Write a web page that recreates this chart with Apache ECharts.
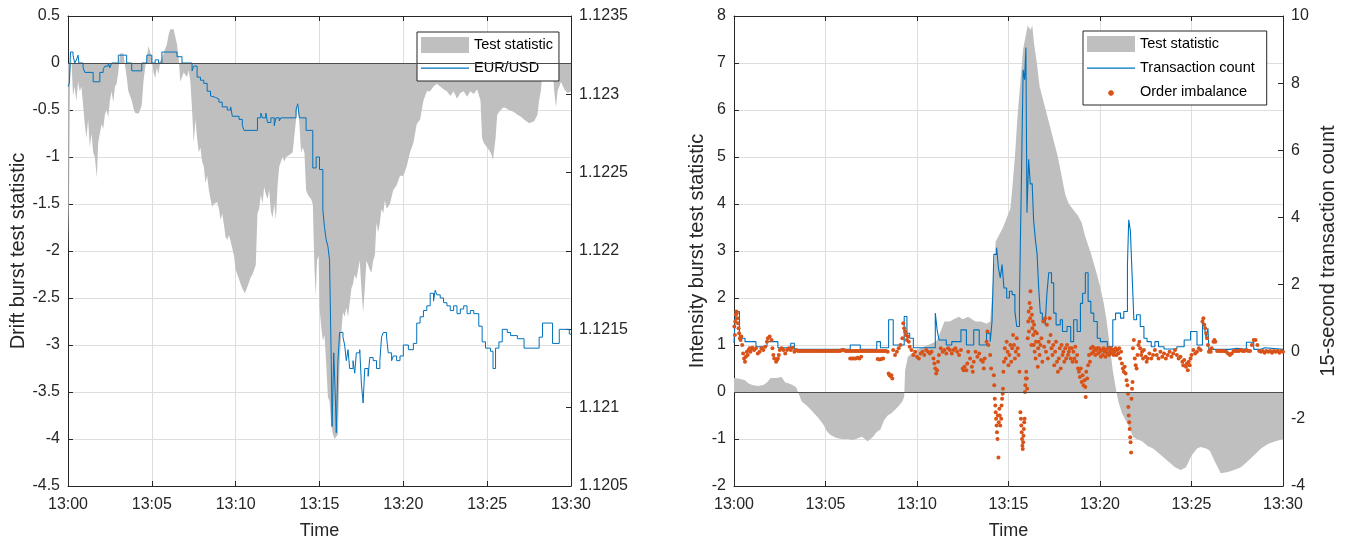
<!DOCTYPE html>
<html>
<head>
<meta charset="utf-8">
<script src="https://cdn.jsdelivr.net/npm/echarts@6/dist/echarts.min.js"></script>
<style>
html,body{margin:0;padding:0;background:#fff}
#chart{width:1346px;height:539px}
</style>
</head>
<body>
<div id="chart"></div>
<script>
// Minutes after 13:00 on every x value.
const timeLabels = ['13:00', '13:05', '13:10', '13:15', '13:20', '13:25', '13:30'];

// Drift burst test statistic, [minute, value]
const driftStat = [
  [0,0],[0.02,-2.0],[0.06,-1.5],[0.12,-0.2],[0.2,0.05],[0.3,-0.35],[0.4,-0.25],[0.5,-0.41],[0.6,-0.2],[0.7,-0.3],
  [0.8,-0.25],[0.9,-0.45],[1.0,-0.65],[1.1,-0.8],[1.2,-0.6],[1.3,-0.9],[1.4,-0.75],[1.5,-0.95],[1.6,-1.0],[1.72,-1.22],
  [1.8,-0.85],[1.9,-0.75],[2.0,-0.65],[2.1,-0.7],[2.2,-0.55],[2.3,-0.5],[2.4,-0.58],[2.5,-0.4],[2.6,-0.3],[2.7,-0.42],
  [2.8,-0.25],[2.9,-0.22],[3.0,-0.1],[3.1,0.1],[3.2,0.12],[3.3,0.1],[3.4,0.08],[3.5,-0.15],[3.6,-0.3],[3.7,-0.35],
  [3.8,-0.4],[3.9,-0.48],[4.0,-0.53],[4.1,-0.55],[4.2,-0.54],[4.3,-0.5],[4.4,-0.45],[4.5,-0.2],[4.6,-0.05],[4.7,0.05],
  [4.8,0.18],[4.9,0.2],[5.0,0.05],[5.1,-0.1],[5.2,-0.16],[5.3,-0.05],[5.4,-0.12],[5.5,0.02],[5.6,0.05],[5.7,0.1],
  [5.8,0.08],[5.9,0.2],[6.0,0.3],[6.1,0.36],[6.2,0.37],[6.3,0.36],[6.4,0.35],[6.5,0.2],[6.6,0.05],[6.7,-0.2],
  [6.8,-0.15],[6.9,-0.1],[7.0,-0.12],[7.1,-0.15],[7.2,-0.08],[7.3,-0.2],[7.4,-0.5],[7.5,-0.85],[7.6,-0.6],[7.7,-0.8],
  [7.8,-0.95],[7.9,-0.9],[8.0,-1.05],[8.1,-1.1],[8.2,-1.28],[8.3,-1.2],[8.4,-1.35],[8.5,-1.45],[8.6,-1.53],[8.7,-1.5],
  [8.8,-1.52],[8.9,-1.48],[9.0,-1.55],[9.1,-1.67],[9.2,-1.6],[9.3,-1.72],[9.4,-1.85],[9.5,-1.88],[9.6,-1.83],[9.7,-1.9],
  [9.8,-1.92],[9.9,-2.05],[10.0,-2.2],[10.1,-2.25],[10.2,-2.3],[10.3,-2.35],[10.4,-2.4],[10.55,-2.45],[10.7,-2.38],[10.8,-2.33],
  [10.9,-2.28],[11.0,-2.25],[11.1,-2.2],[11.2,-2.15],[11.3,-1.6],[11.4,-1.55],[11.5,-1.4],[11.6,-1.5],[11.7,-1.32],[11.8,-1.4],
  [11.9,-1.45],[12.0,-1.35],[12.1,-1.58],[12.2,-1.65],[12.3,-1.5],[12.4,-1.67],[12.5,-1.3],[12.6,-1.1],[12.7,-1.05],[12.8,-1.0],
  [12.9,-1.05],[13.0,-1.0],[13.2,-0.98],[13.4,-0.95],[13.5,-0.93],[13.6,-0.6],[13.7,-0.42],[13.75,-0.4],[13.8,-0.65],[13.9,-0.95],
  [14.0,-0.9],[14.1,-0.95],[14.2,-1.35],[14.3,-1.4],[14.4,-1.42],[14.5,-1.45],[14.6,-1.5],[14.7,-2.2],[14.78,-2.48],[14.85,-2.1],
  [14.95,-2.05],[15.0,-2.6],[15.1,-2.8],[15.2,-2.95],[15.3,-2.9],[15.4,-3.2],[15.5,-3.55],[15.6,-3.6],[15.7,-3.85],[15.8,-3.95],
  [15.9,-4.0],[16.0,-4.02],[16.1,-3.95],[16.2,-3.2],[16.3,-2.87],[16.4,-2.65],[16.5,-2.7],[16.6,-2.6],[16.7,-2.7],[16.8,-2.55],
  [16.9,-2.4],[17.0,-2.35],[17.1,-2.25],[17.2,-2.3],[17.3,-2.2],[17.4,-2.1],[17.5,-2.4],[17.6,-2.66],[17.7,-2.4],[17.8,-2.1],
  [17.9,-2.1],[18.0,-2.2],[18.1,-2.23],[18.2,-2.1],[18.3,-2.05],[18.4,-1.7],[18.5,-1.8],[18.6,-1.7],[18.7,-1.55],[18.8,-1.6],
  [18.9,-1.46],[19.0,-1.55],[19.2,-1.5],[19.4,-1.35],[19.6,-1.3],[19.8,-1.2],[20.0,-1.2],[20.2,-1.1],[20.4,-0.95],[20.6,-0.85],
  [20.8,-0.65],[21.0,-0.6],[21.2,-0.4],[21.4,-0.3],[21.6,-0.3],[21.8,-0.25],[22.0,-0.22],[22.2,-0.25],[22.4,-0.28],[22.6,-0.3],
  [22.8,-0.35],[23.0,-0.3],[23.2,-0.38],[23.4,-0.32],[23.6,-0.3],[23.8,-0.36],[24.0,-0.3],[24.2,-0.33],[24.4,-0.28],[24.6,-0.4],
  [24.7,-0.8],[24.8,-0.85],[25.0,-0.9],[25.2,-0.95],[25.35,-1.03],[25.5,-0.8],[25.6,-0.55],[25.8,-0.5],[26.0,-0.47],[26.3,-0.5],
  [26.6,-0.52],[26.8,-0.55],[27.0,-0.57],[27.2,-0.6],[27.5,-0.64],[27.8,-0.62],[28.0,-0.55],[28.1,-0.4],[28.2,-0.3],[28.3,-0.1],
  [28.5,-0.05],[28.7,-0.02],[28.9,-0.05],[29.0,-0.3],[29.1,-0.47],[29.2,-0.3],[29.4,-0.2],[29.6,-0.28],[29.8,-0.32],[30.0,-0.3]
];

// EUR/USD quote, [minute, price], held until the next change
const eurusd = [
  [0,1.12305],[0.08,1.12307],[0.15,1.12327],[0.3,1.12325],[0.4,1.1232],[0.5,1.12322],[0.6,1.12325],[0.65,1.1232],[0.9,1.12317],[1.0,1.12314],
  [1.5,1.12308],[1.9,1.12314],[2.1,1.12316],[2.2,1.12318],[2.4,1.1232],[2.5,1.12317],[2.6,1.1232],[3.0,1.12325],[3.2,1.12324],[3.3,1.12325],
  [3.5,1.1232],[3.8,1.12315],[4.4,1.1232],[4.7,1.12325],[5.0,1.1232],[5.2,1.12322],[5.4,1.1232],[5.6,1.12327],[6.5,1.12324],[6.8,1.1232],
  [7.4,1.12315],[7.5,1.12318],[7.7,1.12311],[7.9,1.12309],[8.1,1.12307],[8.3,1.12302],[8.5,1.12299],[8.6,1.12298],[8.8,1.12297],[9.0,1.12295],
  [9.2,1.12292],[9.5,1.1229],[9.7,1.12292],[9.8,1.12286],[10.2,1.12284],[10.4,1.1228],[10.5,1.12277],[11.3,1.12285],[11.5,1.12288],[11.6,1.12285],
  [11.8,1.12288],[11.9,1.12282],[12.1,1.12285],[12.3,1.1228],[12.4,1.12285],[12.6,1.12283],[12.7,1.12285],[13.6,1.1229],[13.7,1.12294],[13.8,1.12285],
  [14.2,1.12277],[14.6,1.12253],[14.8,1.1226],[15.0,1.12252],[15.2,1.12226],[15.3,1.12215],[15.4,1.12207],[15.5,1.12203],[15.6,1.12194],[15.7,1.1213],
  [15.75,1.12088],[15.85,1.12135],[15.95,1.12105],[16.0,1.12084],[16.1,1.1213],[16.2,1.12148],[16.4,1.12145],[16.5,1.1214],[16.6,1.1213],[16.7,1.12137],
  [16.8,1.12125],[17.0,1.1213],[17.1,1.12122],[17.2,1.12135],[17.4,1.12137],[17.5,1.12115],[17.6,1.12103],[17.7,1.12125],[17.9,1.1212],[18.0,1.12132],
  [18.2,1.1213],[18.4,1.12125],[18.6,1.1213],[18.7,1.12145],[18.8,1.12148],[19.0,1.12145],[19.1,1.12135],[19.3,1.1213],[19.4,1.12133],[19.6,1.1213],
  [19.8,1.12133],[20.0,1.1214],[20.3,1.12137],[20.6,1.12141],[20.8,1.12154],[21.0,1.12158],[21.2,1.12162],[21.4,1.12165],[21.6,1.12173],[21.8,1.12168],
  [21.9,1.12175],[22.0,1.12172],[22.2,1.1217],[22.4,1.12167],[22.6,1.12165],[22.8,1.12162],[23.0,1.12165],[23.2,1.1216],[23.4,1.12163],[23.6,1.12165],
  [23.8,1.1216],[24.0,1.12162],[24.2,1.1216],[24.5,1.12152],[24.7,1.12142],[24.9,1.12138],[25.2,1.12136],[25.35,1.12125],[25.5,1.12138],[25.7,1.12142],
  [25.9,1.1215],[26.2,1.12148],[26.4,1.12146],[26.8,1.12144],[27.2,1.12138],[28.1,1.12145],[28.3,1.12154],[28.9,1.12141],[29.3,1.1215],[29.9,1.12147],
  [30.0,1.12147]
];

// Intensity burst test statistic, [minute, value]
const intensityStat = [
  [0,0.3],[0.3,0.28],[0.6,0.25],[0.8,0.18],[1.0,0.15],[1.3,0.13],[1.6,0.15],[1.8,0.2],[2.0,0.3],[2.3,0.3],
  [2.6,0.32],[2.8,0.2],[3.0,0.18],[3.2,0.15],[3.4,0.1],[3.5,0.0],[3.7,-0.2],[4.0,-0.3],[4.3,-0.42],[4.6,-0.55],
  [4.9,-0.7],[5.1,-0.85],[5.3,-0.92],[5.6,-0.98],[5.9,-1.0],[6.2,-1.0],[6.5,-1.02],[6.8,-0.98],[7.0,-0.95],[7.3,-1.05],
  [7.4,-1.08],[7.6,-0.95],[7.8,-0.85],[8.0,-0.8],[8.2,-0.6],[8.4,-0.5],[8.6,-0.45],[8.8,-0.38],[9.0,-0.3],[9.2,-0.2],
  [9.3,-0.1],[9.35,0.45],[9.5,0.75],[9.8,0.85],[10.0,0.9],[10.3,0.95],[10.6,1.0],[10.9,1.05],[11.1,1.1],[11.3,1.3],
  [11.5,1.5],[11.8,1.5],[12.0,1.55],[12.3,1.6],[12.5,1.55],[12.8,1.6],[13.0,1.55],[13.2,1.5],[13.5,1.5],[13.8,1.45],
  [14.0,1.5],[14.2,2.6],[14.3,3.2],[14.5,3.35],[14.7,3.5],[14.9,3.7],[15.1,3.9],[15.2,4.3],[15.35,5.0],[15.5,5.9],
  [15.65,6.6],[15.8,7.3],[15.9,7.5],[16.05,7.8],[16.2,7.7],[16.3,7.8],[16.4,7.4],[16.55,7.0],[16.7,6.5],[16.9,6.2],
  [17.1,5.9],[17.3,5.6],[17.5,5.3],[17.7,5.0],[17.9,4.6],[18.1,4.2],[18.3,4.0],[18.5,3.9],[18.8,3.75],[19.0,3.6],
  [19.2,3.3],[19.5,2.95],[19.8,2.55],[20.0,2.25],[20.2,1.9],[20.35,1.55],[20.5,1.1],[20.7,0.45],[20.9,0.0],[21.0,-0.2],
  [21.2,-0.45],[21.4,-0.6],[21.6,-0.75],[21.8,-0.95],[22.0,-1.0],[22.3,-1.05],[22.6,-1.15],[22.9,-1.2],[23.2,-1.3],[23.5,-1.4],
  [23.8,-1.5],[24.1,-1.6],[24.4,-1.66],[24.7,-1.6],[25.0,-1.35],[25.3,-1.2],[25.5,-1.17],[25.8,-1.2],[26.0,-1.25],[26.3,-1.5],
  [26.6,-1.73],[27.0,-1.7],[27.4,-1.65],[27.7,-1.6],[28.0,-1.5],[28.4,-1.35],[28.8,-1.2],[29.2,-1.1],[29.6,-1.05],[30.0,-1.0]
];

// 15-second transaction count, [minute, value]
const transCount = [
  [0,0.26],[0.08,1.2],[0.3,0.4],[0.6,0.3],[1.2,0.15],[1.8,0.3],[2.4,0.12],[3.1,0.25],[3.3,0.07],[6.35,0.2],
  [6.9,0.07],[7.8,0.3],[8.0,0.12],[8.45,0.95],[8.7,0.2],[9.3,1.05],[9.45,0.55],[9.6,0.4],[9.8,0.12],[11.0,1.15],
  [11.1,0.65],[11.2,0.35],[11.6,0.2],[11.9,0.3],[12.4,0.65],[12.7,0.2],[13.1,0.65],[13.4,0.2],[13.8,0.55],[14.0,0.3],
  [14.1,0.9],[14.2,2.9],[14.35,3.1],[14.45,2.5],[14.55,2.2],[14.65,2.6],[14.75,1.9],[14.9,1.6],[15.05,1.8],[15.2,1.7],
  [15.35,1.2],[15.45,0.75],[15.6,1.6],[15.7,4.95],[15.8,8.4],[15.88,8.1],[15.95,9.06],[16.01,4.14],[16.1,5.73],[16.19,5.0],
  [16.3,4.9],[16.37,3.93],[16.47,3.33],[16.56,2.93],[16.65,1.9],[16.74,1.15],[16.85,0.95],[17.0,0.8],[17.1,1.74],[17.2,2.35],
  [17.35,2.05],[17.47,1.15],[17.6,0.8],[17.83,0.95],[17.95,0.6],[18.2,0.75],[18.4,0.3],[18.56,0.95],[18.75,0.6],[18.93,1.44],
  [19.05,1.74],[19.2,2.35],[19.35,1.5],[19.5,1.15],[19.66,0.9],[19.85,0.4],[20.02,0.3],[20.4,0.15],[20.7,0.95],[20.85,1.15],
  [21.12,1.0],[21.3,1.2],[21.5,2.6],[21.57,3.93],[21.66,3.6],[21.75,2.35],[21.85,0.95],[22.0,1.1],[22.2,0.75],[22.4,0.4],
  [22.57,0.3],[22.8,0.15],[23.0,0.3],[23.2,0.15],[23.5,0.08],[24.2,0.15],[24.6,0.35],[24.95,0.6],[25.3,0.2],[25.6,1.0],
  [25.7,0.75],[25.8,0.4],[25.9,0.7],[25.95,0.07],[27.1,0.1],[27.5,0.07],[28.0,0.28],[28.4,0.07],[28.8,0.12],[29.0,0.07],
  [30.0,0.07]
];

// Order imbalance, [minute, value]
const orderImbalance = [
  [0.02,0.75],[0.05,0.5],[0.07,0.9],[0.1,1.1],[0.13,1.2],[0.16,1.15],[0.19,1.0],[0.22,0.85],[0.25,0.7],[0.28,0.55],
  [0.32,0.4],[0.36,0.35],[0.4,0.45],[0.45,0.2],[0.5,-0.05],[0.55,-0.2],[0.6,-0.3],[0.65,-0.15],[0.7,0.0],[0.75,-0.1],
  [0.8,0.05],[0.85,0.1],[0.9,0.0],[0.95,0.08],[1.0,0.12],[1.1,0.05],[1.2,0.1],[1.3,-0.05],[1.4,0.0],[1.5,0.1],
  [1.6,0.05],[1.7,0.15],[1.8,0.3],[1.85,0.4],[1.95,0.45],[2.05,0.35],[2.1,0.1],[2.15,-0.1],[2.2,-0.2],[2.3,-0.3],
  [2.35,-0.25],[2.4,-0.2],[2.45,-0.1],[2.5,0.05],[2.6,0.1],[2.7,0.05],[2.8,-0.05],[2.9,0.05],[3.0,0.1],[3.1,0.05],
  [3.2,0.12],[3.3,0.0],[3.4,0.05],
  [3.5,0.02],[3.6,0.02],[3.7,0.02],[3.8,0.02],[3.9,0.02],[4.0,0.02],[4.1,0.02],[4.2,0.02],[4.3,0.02],[4.4,0.02],
  [4.5,0.02],[4.6,0.02],[4.7,0.02],[4.8,0.02],[4.9,0.02],[5.0,0.02],[5.1,0.02],[5.2,0.02],[5.3,0.02],[5.4,0.02],
  [5.5,0.02],[5.6,0.02],[5.7,0.02],[5.8,0.02],[5.9,0.05],[6.0,0.05],[6.1,0.02],[6.2,0.02],[6.3,0.02],[6.35,-0.2],
  [6.4,0.02],[6.45,-0.2],[6.5,0.02],[6.55,-0.2],[6.6,0.02],[6.65,-0.2],[6.7,0.02],[6.75,-0.18],[6.8,0.02],[6.85,-0.2],
  [6.9,0.02],[6.95,-0.15],[7.0,0.02],[7.1,0.02],[7.2,0.02],[7.3,0.02],[7.4,0.02],[7.5,0.02],[7.6,0.02],[7.7,0.02],
  [7.8,0.02],[7.85,-0.22],[7.9,0.02],[7.95,-0.23],[8.0,0.02],[8.05,-0.22],[8.1,0.02],[8.15,-0.2],[8.2,0.02],[8.3,0.02],
  [8.4,0.0],[8.45,-0.65],[8.5,-0.7],[8.55,-0.72],[8.6,-0.7],[8.65,-0.8],[8.7,0.05],[8.8,-0.1],[8.9,0.0],[9.0,0.1],
  [9.1,0.2],[9.2,0.4],[9.25,0.85],[9.3,0.7],[9.35,0.6],[9.4,0.5],[9.45,0.35],[9.5,0.45],[9.55,0.3],[9.6,0.15],
  [9.7,0.05],[9.8,-0.1],[9.9,0.0],[10.0,-0.15],[10.1,-0.2],[10.2,-0.05],[10.3,0.0],[10.4,-0.1],[10.5,0.05],[10.6,0.0],
  [10.7,-0.05],[10.8,0.0],[10.9,-0.2],[10.95,-0.35],[11.0,-0.5],[11.05,-0.65],[11.1,-0.55],[11.15,-0.3],[11.2,-0.1],[11.3,0.1],
  [11.4,0.0],[11.5,0.05],[11.6,-0.05],[11.7,0.1],[11.8,0.05],[11.9,-0.05],[12.0,0.05],[12.1,0.1],[12.2,0.0],[12.3,-0.1],
  [12.4,0.05],[12.5,-0.5],[12.55,-0.55],[12.6,-0.45],[12.7,-0.55],[12.75,-0.35],[12.8,0.0],[12.9,-0.2],[13.0,-0.45],[13.05,-0.6],
  [13.1,-0.3],[13.2,0.0],[13.3,-0.15],[13.4,-0.05],[13.5,-0.25],[13.6,-0.3],[13.65,-0.5],[13.7,-0.2],[13.8,0.3],[13.85,0.6],
  [13.9,0.2],[14.0,-0.1],[14.05,-0.5],
  [14.2,-0.7],[14.22,-1.0],[14.25,-1.4],[14.28,-1.6],[14.3,-1.8],[14.32,-2.0],[14.35,-2.2],[14.37,-2.4],[14.4,-2.6],[14.45,-3.15],
  [14.42,-1.9],[14.47,-2.1],[14.5,-1.7],[14.52,-1.9],[14.55,-2.2],[14.6,-2.0],[14.62,-1.6],[14.65,-1.4],[14.68,-1.25],[14.7,-1.1],
  [14.72,-0.6],[14.75,-0.3],
  [14.8,0.1],[14.85,-0.2],[14.9,0.3],[14.95,0.0],[15.0,-0.4],[15.05,-0.1],[15.1,0.2],[15.15,-0.3],[15.2,0.1],[15.25,0.5],
  [15.3,0.2],[15.35,-0.2],[15.4,0.0],[15.45,0.4],[15.5,0.1],[15.55,-0.1],[15.6,-0.6],
  [15.65,-1.8],[15.68,-2.0],[15.7,-2.2],[15.72,-2.4],[15.74,-2.6],[15.76,-2.8],[15.78,-2.9],[15.8,-2.7],[15.82,-2.5],[15.84,-2.3],
  [15.86,-2.1],[15.88,-2.0],[15.9,-1.2],[15.92,-1.0],[15.95,-0.8],[15.97,-0.6],
  [16.0,-0.8],[16.02,-1.1],[16.05,0.4],[16.08,0.9],[16.1,1.2],[16.12,0.6],[16.15,1.45],[16.18,1.0],[16.2,1.8],[16.22,1.3],
  [16.25,0.2],[16.28,1.1],[16.3,0.7],[16.32,0.9],[16.35,0.5],[16.38,0.2],[16.4,0.8],[16.43,0.0],[16.45,0.6],[16.48,-0.2],
  [16.5,0.3],[16.55,0.55],[16.6,-0.45],[16.62,0.1],[16.65,0.3],[16.7,-0.1],[16.75,0.2],[16.8,0.4],[16.85,-0.3],[16.9,0.9],
  [16.95,0.15],[17.0,1.0],[17.05,0.0],[17.1,0.8],[17.15,-0.2],[17.2,0.3],[17.25,1.0],[17.3,0.5],[17.35,0.1],[17.4,-0.1],
  [17.45,0.2],[17.5,-0.4],[17.55,0.0],[17.6,0.3],[17.65,-0.3],[17.7,-0.6],[17.75,-0.2],[17.8,0.1],[17.85,-0.5],[17.9,0.2],
  [17.95,-0.1],[18.0,0.0],[18.05,-0.3],[18.1,0.1],[18.15,-0.2],[18.2,0.2],[18.25,-0.1],[18.3,0.0],[18.35,0.1],[18.4,-0.2],
  [18.45,0.1],[18.5,-0.3],[18.55,0.0],[18.6,-0.2],[18.65,0.15],[18.7,-0.3],[18.75,-0.1],[18.8,-0.5],[18.85,-0.6],[18.9,-0.75],
  [18.95,-0.5],[19.0,-0.9],[19.05,-0.7],[19.1,-1.0],[19.15,-0.85],[19.2,-1.05],[19.22,-1.35],[19.25,-0.6],[19.3,-0.8],[19.35,-0.4],
  [19.4,-0.1],[19.45,-0.3],[19.5,0.1],[19.55,-0.05],[19.6,0.15],[19.65,0.0],[19.7,0.1],[19.75,-0.1],[19.8,0.05],[19.85,0.1],
  [19.9,-0.05],[19.95,0.1],[20.0,0.0],[20.05,-0.15],[20.1,0.05],[20.15,-0.1],[20.2,0.1],[20.25,0.0],[20.3,-0.15],[20.35,0.05],
  [20.4,-0.05],[20.45,0.1],[20.5,-0.1],[20.55,0.0],[20.6,0.1],[20.65,-0.05],[20.7,0.05],[20.75,-0.1],
  [20.8,0.0],[20.85,0.1],[20.9,-0.1],[20.95,0.05],[21.0,-0.05],[21.05,0.1],[21.1,-0.2],[21.15,0.0],[21.2,-0.35],[21.25,-0.5],
  [21.3,-0.6],[21.35,-0.45],[21.4,-0.65],[21.45,-0.85],[21.5,-1.0],[21.53,-1.25],[21.55,-1.65],[21.57,-1.9],[21.6,-2.1],[21.62,-2.3],
  [21.65,-2.55],[21.67,-2.7],[21.7,-3.0],[21.72,-1.4],[21.75,-1.1],[21.78,-0.9],[21.8,0.1],[21.85,0.35],[21.9,-0.2],[21.95,-0.4],
  [22.0,-0.5],
  [22.05,-0.1],[22.1,0.2],[22.15,0.3],[22.2,0.1],[22.25,-0.1],[22.3,0.0],[22.35,-0.2],[22.4,0.05],[22.5,-0.15],[22.55,-0.3],
  [22.6,-0.2],[22.7,-0.05],[22.8,-0.2],[22.9,-0.1],[23.0,0.05],[23.1,-0.1],[23.2,-0.2],[23.3,0.0],[23.4,-0.15],[23.5,-0.05],
  [23.6,-0.2],[23.7,-0.1],[23.8,0.0],[23.9,-0.15],[24.0,-0.05],[24.1,0.05],[24.2,-0.1],[24.3,-0.2],[24.4,-0.15],[24.5,-0.3],
  [24.55,-0.4],[24.6,-0.25],[24.7,-0.45],[24.75,-0.35],[24.8,-0.55],[24.85,-0.3],[24.9,-0.4],[24.95,-0.2],[25.0,-0.1],[25.1,0.05],
  [25.2,-0.05],[25.3,0.0],[25.4,0.1],[25.5,0.05],[25.6,0.9],[25.65,1.0],[25.7,0.8],[25.75,0.7],[25.8,0.55],[25.85,0.4],
  [25.9,0.2],[25.95,0.0],[26.0,0.05],[26.05,0.0],[26.1,0.1],[26.2,0.3],[26.25,0.35],[26.3,0.3],
  [26.4,0.02],[26.5,0.02],[26.6,0.02],[26.7,0.02],[26.8,0.02],[26.9,0.0],[27.0,-0.05],[27.1,-0.1],[27.2,-0.05],[27.3,0.02],
  [27.4,0.02],[27.5,0.02],[27.6,0.02],[27.7,0.05],[27.8,0.02],[27.9,0.02],[28.0,0.05],[28.1,0.02],[28.2,0.02],[28.3,0.2],
  [28.4,0.35],[28.5,0.35],[28.6,0.2],[28.7,0.02],[28.8,0.0],[28.9,0.02],[29.0,-0.03],[29.1,0.02],[29.2,0.0],[29.3,0.02],
  [29.4,-0.03],[29.5,0.02],[29.6,0.0],[29.7,0.02],[29.8,-0.03],[29.9,0.02],[30.0,0.0]
];

const FONT = '"Liberation Sans", Arial, Helvetica, sans-serif';
const INK = '#262626';
const GRID = '#dedede';
const GRAY = '#bfbfbf';
const BLUE = '#0072bd';
const ORANGE = '#d95319';

const tickFont = { color: INK, fontSize: 16, fontFamily: FONT };
const nameFont = { color: INK, fontSize: 20, fontFamily: FONT };
const timeNameFont = { color: INK, fontSize: 18, fontFamily: FONT };

function timeAxes(gridIndex) {
  return [
    {
      gridIndex, type: 'value', position: 'bottom', min: 0, max: 30, interval: 5,
      axisLine: { onZero: false, lineStyle: { color: INK, width: 1 } },
      axisTick: { inside: true, length: 5, lineStyle: { color: INK } },
      axisLabel: Object.assign({ margin: 11, formatter: v => timeLabels[Math.round(v / 5)] }, tickFont),
      splitLine: { show: true, lineStyle: { color: GRID, width: 1 } },
      name: 'Time', nameLocation: 'middle', nameGap: 36, nameTextStyle: timeNameFont
    },
    {
      gridIndex, type: 'value', position: 'top', min: 0, max: 30, interval: 5,
      axisLine: { onZero: false, lineStyle: { color: INK, width: 1 } },
      axisTick: { inside: true, length: 5, lineStyle: { color: INK } },
      axisLabel: { show: false }, splitLine: { show: false }
    }
  ];
}

function valueAxis(gridIndex, position, min, max, interval, opts) {
  return Object.assign({
    gridIndex, type: 'value', position, min, max, interval,
    axisLine: { show: true, onZero: false, lineStyle: { color: INK, width: 1 } },
    axisTick: { show: true, inside: true, length: 5, lineStyle: { color: INK } },
    axisLabel: Object.assign({ margin: 8 }, tickFont),
    splitLine: { show: position === 'left', lineStyle: { color: GRID, width: 1 } }
  }, opts);
}

const zeroLine = {
  silent: true, symbol: ['none', 'none'], label: { show: false },
  lineStyle: { color: '#4d4d4d', width: 1, type: 'solid' },
  emphasis: { disabled: true },
  data: [{ yAxis: 0 }]
};

// Legend glyphs laid out in a 48x16 box: a thin stroke and a small dot
const lineIcon = 'path://M0,0M48,16M0,7.5h48v1.2h-48z';
const dotIcon = 'path://M0,0M48,16M23,6.2h2l1.8,1.8v2l-1.8,1.8h-2l-1.8,-1.8v-2z';

const legendText = { color: '#000', fontSize: 14.5, fontFamily: FONT };

const option = {
  animation: false,
  backgroundColor: '#ffffff',
  textStyle: { fontFamily: FONT },
  grid: [
    { left: 68, top: 16, width: 503, height: 470, outerBoundsMode: 'none', containLabel: false },
    { left: 734, top: 16, width: 549, height: 470, outerBoundsMode: 'none', containLabel: false }
  ],
  xAxis: [...timeAxes(0), ...timeAxes(1)],
  yAxis: [
    valueAxis(0, 'left', -4.5, 0.5, 0.5, {
      name: 'Drift burst test statistic', nameLocation: 'middle', nameRotate: 90, nameGap: 38, nameTextStyle: nameFont
    }),
    valueAxis(0, 'right', 1.1205, 1.1235, 0.0005, {
      axisLabel: Object.assign({ margin: 8, formatter: v => String(+v.toFixed(4)) }, tickFont)
    }),
    valueAxis(1, 'left', -2, 8, 1, {
      name: 'Intensity burst test statistic', nameLocation: 'middle', nameRotate: 90, nameGap: 25, nameTextStyle: nameFont
    }),
    valueAxis(1, 'right', -4, 10, 2, {
      name: '15-second transaction count', nameLocation: 'middle', nameRotate: 90, nameGap: 35, nameTextStyle: nameFont
    })
  ],
  legend: [
    {
      orient: 'vertical', left: 417, top: 32, selectedMode: false,
      itemWidth: 48, itemHeight: 16, itemGap: 7,
      padding: [5, 6, 5, 4], borderColor: INK, borderWidth: 1, borderRadius: 0, backgroundColor: '#fff',
      textStyle: legendText,
      data: [
        { name: 'Test statistic', icon: 'rect', itemStyle: { color: GRAY } },
        { name: 'EUR/USD', icon: lineIcon, itemStyle: { color: BLUE } }
      ]
    },
    {
      orient: 'vertical', left: 1083, top: 31, selectedMode: false,
      itemWidth: 48, itemHeight: 16, itemGap: 8,
      padding: [5, 12, 5, 4], borderColor: INK, borderWidth: 1, borderRadius: 0, backgroundColor: '#fff',
      textStyle: legendText,
      data: [
        { name: 'Test statistic', icon: 'rect', itemStyle: { color: GRAY } },
        { name: 'Transaction count', icon: lineIcon, itemStyle: { color: BLUE } },
        { name: 'Order imbalance', icon: dotIcon, itemStyle: { color: ORANGE } }
      ]
    }
  ],
  series: [
    {
      type: 'line', name: 'Test statistic', xAxisIndex: 0, yAxisIndex: 0, data: driftStat,
      symbol: 'none', color: GRAY, itemStyle: { color: GRAY },
      lineStyle: { width: 0 }, areaStyle: { color: GRAY, opacity: 1 },
      markLine: zeroLine, z: 1, silent: true
    },
    {
      type: 'line', name: 'EUR/USD', xAxisIndex: 0, yAxisIndex: 1, data: eurusd, step: 'end',
      symbol: 'none', color: BLUE, lineStyle: { color: BLUE, width: 1 }, z: 3, silent: true
    },
    {
      type: 'line', name: 'Test statistic', xAxisIndex: 2, yAxisIndex: 2, data: intensityStat,
      symbol: 'none', color: GRAY, itemStyle: { color: GRAY },
      lineStyle: { width: 0 }, areaStyle: { color: GRAY, opacity: 1 },
      markLine: zeroLine, z: 1, silent: true
    },
    {
      type: 'line', name: 'Transaction count', xAxisIndex: 2, yAxisIndex: 3, data: transCount, step: 'end',
      symbol: 'none', color: BLUE, lineStyle: { color: BLUE, width: 1.1 }, z: 3, silent: true
    },
    {
      type: 'scatter', name: 'Order imbalance', xAxisIndex: 2, yAxisIndex: 3, data: orderImbalance,
      symbol: 'circle', symbolSize: 4, itemStyle: { color: ORANGE, opacity: 1 }, z: 4, silent: true
    }
  ]
};

const chart = echarts.init(document.getElementById('chart'), null, { renderer: 'canvas' });
chart.setOption(option);
</script>
</body>
</html>
